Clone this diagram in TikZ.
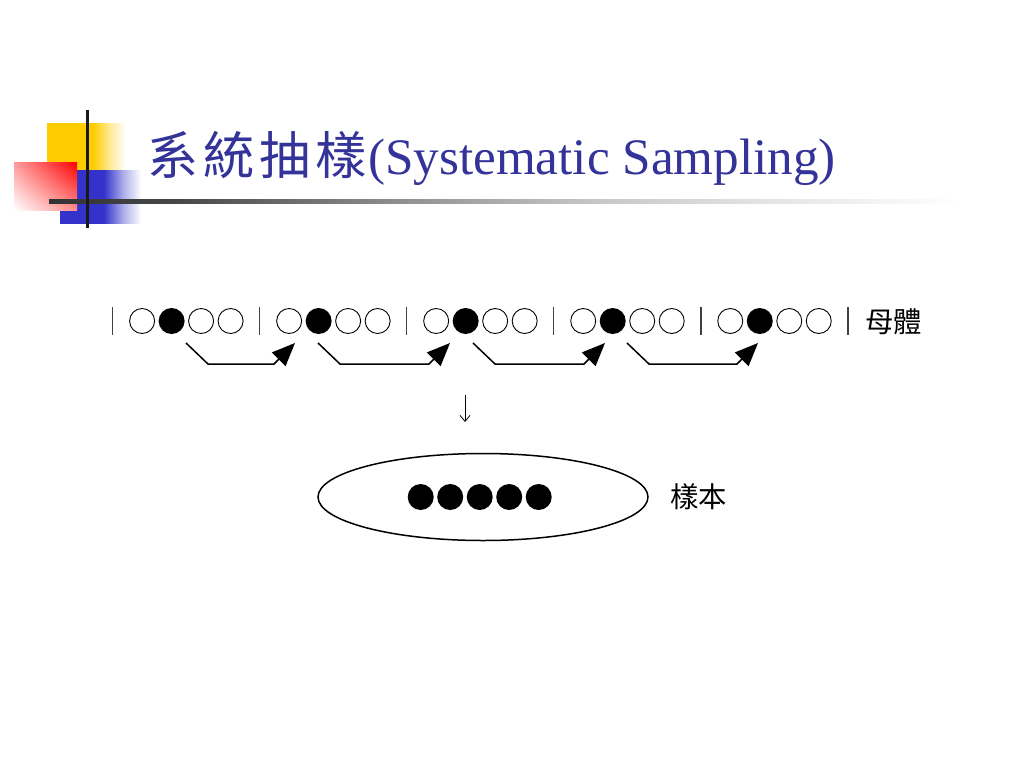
\documentclass[tikz,border=0pt]{standalone}
\usepackage{fontspec}
\setmainfont{Liberation Serif}
\newfontfamily\cjk{Noto Sans CJK TC}
\usetikzlibrary{arrows.meta,shapes.geometric,shadings,calc}
\definecolor{titleblue}{RGB}{51,51,153}
\definecolor{decoyellow}{RGB}{255,204,0}
\definecolor{decoblue}{RGB}{51,51,204}
\definecolor{decored}{RGB}{255,0,0}
\pgfdeclarehorizontalshading{yellowfade}{100bp}{color(0bp)=(decoyellow); color(25bp)=(decoyellow); color(54bp)=(decoyellow); color(65bp)=(decoyellow!40); color(75bp)=(white); color(100bp)=(white)}
\pgfdeclarehorizontalshading{bluefade}{100bp}{color(0bp)=(decoblue); color(25bp)=(decoblue); color(52bp)=(decoblue); color(64bp)=(decoblue!40); color(75bp)=(white); color(100bp)=(white)}
\pgfdeclarehorizontalshading{rulefade}{100bp}{color(0bp)=(black!80); color(25bp)=(black!80); color(32bp)=(black!72); color(45bp)=(black!42); color(55bp)=(black!22); color(65bp)=(black!10); color(75bp)=(white); color(100bp)=(white)}
\tikzset{
  opendot/.style={circle, draw, line width=0.9pt, minimum size=25pt, inner sep=0pt},
  fulldot/.style={circle, fill=black, minimum size=26pt, inner sep=0pt},
  sepbar/.style={line width=1.1pt, black!75},
  jumparrow/.style={line width=1.5pt, -{Triangle[length=23pt,width=19pt]}},
  cjklabel/.style={font=\cjk\fontsize{28.4}{32}\selectfont, inner sep=0pt}
}
\begin{document}
\begin{tikzpicture}[x=1pt,y=-1pt]
\useasboundingbox (0,0) rectangle (1024,768);
\fill[white] (0,0) rectangle (1024,768);
% decoration
\shade[shading=yellowfade] (47,123) rectangle (126,170);
\shade[shading=bluefade] (60,170) rectangle (141,223);
\shade[upper right=decored, upper left=decored!40, lower right=decored!45, lower left=white] (14,162) rectangle (77,210);
\shade[shading=rulefade] (49,199) rectangle (962,203.5);
\draw[line width=3pt, black!90] (87,110) -- (87,228);
% title
\node[anchor=base west, inner sep=0pt, text=titleblue, font=\fontsize{51.2}{60}\selectfont] (title) at (147,174)
  {{\cjk 系\kern5pt 統\kern5pt 抽\kern5pt 樣}\kern1pt(Systematic Sampling)};
% population row
\foreach \g in {0,...,5} {
  \pgfmathsetmacro{\bx}{112.8+147.04*\g}
  \draw[sepbar] (\bx,307) -- (\bx,335);
}
\foreach \g in {0,...,4} {
  \pgfmathsetmacro{\bx}{112.8+147.04*\g}
  \node[opendot] (c\g a) at (\bx+29.3,321) {};
  \node[fulldot] (c\g b) at (\bx+58.8,321) {};
  \node[opendot] (c\g c) at (\bx+88.3,321) {};
  \node[opendot] (c\g d) at (\bx+117.8,321) {};
}
\node[cjklabel, anchor=west] (pop) at (865,322) {母體};
% jump arrows
\coordinate (s1) at (186,343); \coordinate (t1) at (295,343);
\coordinate (s2) at (318,343); \coordinate (t2) at (450,343);
\coordinate (s3) at (473,343); \coordinate (t3) at (605,343);
\coordinate (s4) at (627,343); \coordinate (t4) at (758,343);
\foreach \i in {1,...,4} {
  \draw[jumparrow] (s\i) -- ++(22,21) -- ($(t\i)+(-21,21)$) -- (t\i);
}
% down arrow
\coordinate (d1) at (465,395);
\coordinate (d2) at (465,422);
\draw[line width=0.8pt, -{Straight Barb[length=6pt,width=10pt]}] (d1) -- (d2);
% sample
\node[ellipse, draw, line width=1.5pt, minimum width=330pt, minimum height=87pt, inner sep=0pt] (samp) at (483,497) {};
\foreach \k in {0,...,4} {
  \node[fulldot] (sd\k) at (420.7+29.5*\k,497) {};
}
\node[cjklabel, anchor=west] (samplabel) at (670,497) {樣本};
\end{tikzpicture}
\end{document}
